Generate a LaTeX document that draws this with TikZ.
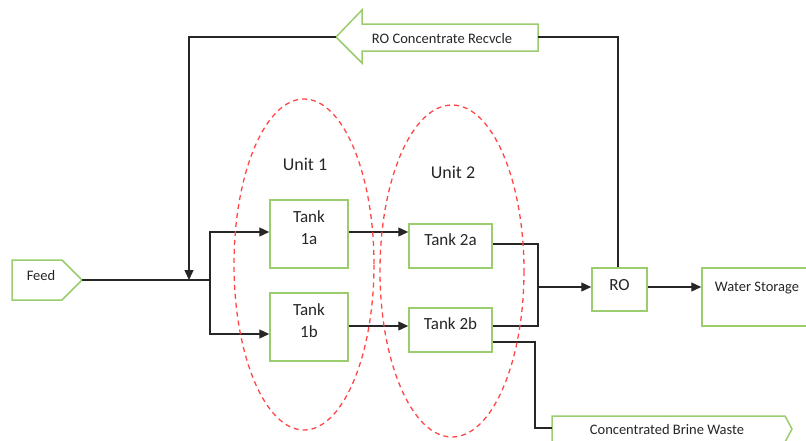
\documentclass[tikz,border=0pt]{standalone}
\usepackage{fontspec}
\setmainfont{Carlito}
\usetikzlibrary{arrows.meta}
\definecolor{boxgreen}{RGB}{155,205,110}
\definecolor{txt}{RGB}{38,38,38}
\definecolor{unitred}{RGB}{255,70,70}
\tikzset{
  box/.style={draw=boxgreen, line width=1.5pt, fill=white, inner sep=0pt},
  flow/.style={draw=black!85, line width=1.3pt, -{Triangle[length=10pt,width=9pt]}},
  plain/.style={draw=black!85, line width=1.3pt},
  unitring/.style={draw=unitred, line width=1.3pt, dash pattern=on 5pt off 4pt},
  lbl/.style={font=\fontsize{14.5}{17}\selectfont, text=txt, inner sep=0pt},
  tk/.style={font=\fontsize{17}{22}\selectfont, text=txt, inner sep=0pt, align=center},
  ut/.style={font=\fontsize{18}{22}\selectfont, text=txt, inner sep=0pt},
}
\begin{document}
\begin{tikzpicture}[x=1pt,y=-1pt]
\useasboundingbox (0,0) rectangle (806,440);
% shapes
\draw[box] (12,260) -- (62,260) -- (82,280) -- (62,300) -- (12,300) -- cycle;
\node[lbl] (feed) at (41,276) {Feed};
\coordinate (feedtip) at (82,280);

\draw[box] (336,37) -- (362,10) -- (362,24) -- (538,24) -- (538,51) -- (362,51) -- (362,63) -- cycle;
\node[lbl] (rec) at (442,39) {RO Concentrate Recvcle};
\coordinate (rectip) at (336,37);
\coordinate (recend) at (538,37);

\draw[box] (552,416) -- (785,416) -- (792,429) -- (785,442) -- (552,442) -- cycle;
\node[lbl] (brine) at (667,430) {Concentrated Brine Waste};
\coordinate (brinein) at (552,428);

\node[box, minimum width=78pt, minimum height=68pt] (t1a) at (309,234) {};
\node[tk] (t1atext) at (309,228) {Tank\\1a};
\node[box, minimum width=78pt, minimum height=68pt] (t1b) at (309,327) {};
\node[tk] (t1btext) at (309,321) {Tank\\1b};
\node[box, minimum width=83pt, minimum height=44pt] (t2a) at (450.5,246) {};
\node[tk] (t2atext) at (450.5,240) {Tank 2a};
\node[box, minimum width=83pt, minimum height=44pt] (t2b) at (450.5,330) {};
\node[tk] (t2btext) at (450.5,324) {Tank 2b};
\node[box, minimum width=55pt, minimum height=43pt] (ro) at (619.5,289.5) {};
\node[tk] (rotext) at (619.5,285) {RO};
\node[box, minimum width=106pt, minimum height=58pt] (ws) at (755,297) {};
\node[lbl] (wstext) at (757,288) {Water Storage};

% connectors
\coordinate (j) at (210,280);
\coordinate (jin) at (189,280);
\coordinate (rtl) at (189,37);
\coordinate (rtr) at (618,37);
\coordinate (m) at (538,287);
\draw[plain] (feedtip) -- (j);
\draw[flow] (j) |- ([yshift=2pt]t1a.west);
\draw[flow] (j) |- ([yshift=-7pt]t1b.west);
\draw[flow] ([yshift=2pt]t1a.east) -- ([yshift=14pt]t2a.west);
\draw[flow] ([yshift=1pt]t1b.east) -- ([yshift=4pt]t2b.west);
\draw[plain] ([yshift=2pt]t2a.east) -| (m);
\draw[plain] ([yshift=4pt]t2b.east) -| (m);
\draw[flow] (m) -- ([yshift=2.5pt]ro.west);
\draw[flow] ([yshift=2.5pt]ro.east) -- (ws.west |- m);
\draw[plain] (rtr |- ro.north) -- (rtr) -- (recend);
\draw[flow] (rectip) -- (rtl) -- (jin);
\draw[plain] ([yshift=-12pt]t2b.east) -- (535,342) -- (535,428) -- (brinein);

% units
\draw[unitring] (304,264.5) ellipse [x radius=70, y radius=165.5];
\draw[unitring] (452,271) ellipse [x radius=72, y radius=166];
\node[ut] (u1) at (305,164) {Unit 1};
\node[ut] (u2) at (453,172) {Unit 2};
\end{tikzpicture}
\end{document}
